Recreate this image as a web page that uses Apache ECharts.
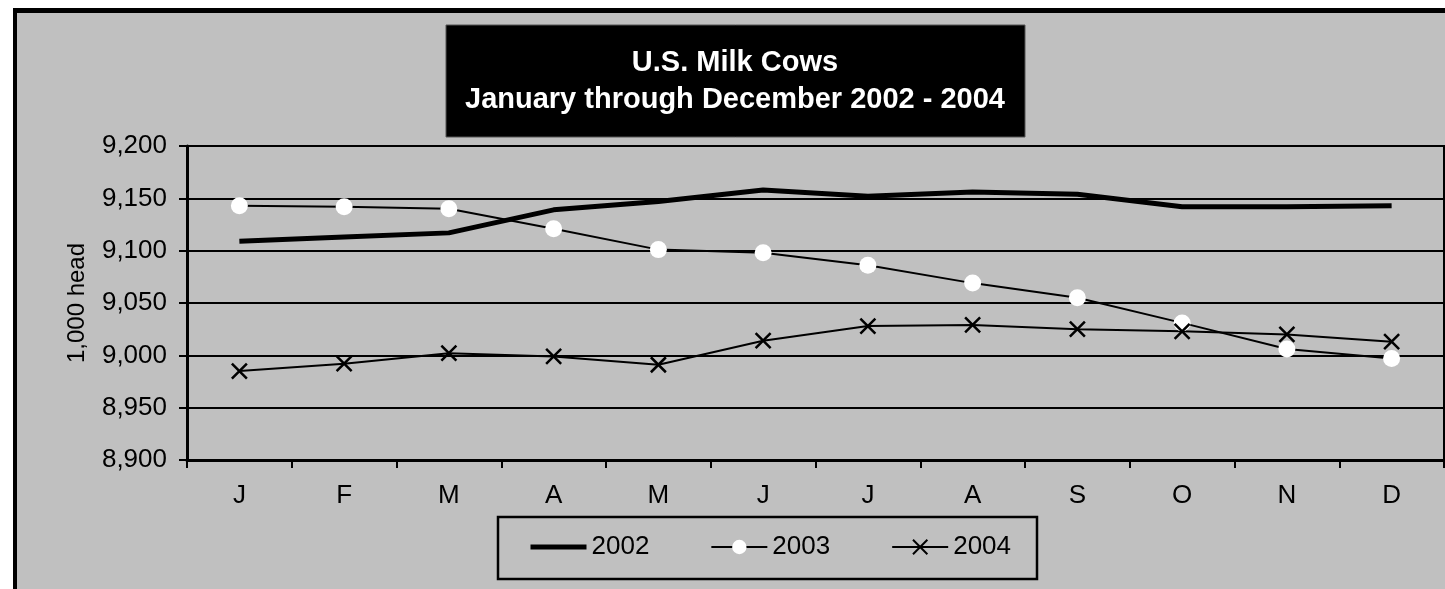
<!DOCTYPE html>
<html>
<head>
<meta charset="utf-8">
<title>U.S. Milk Cows</title>
<script src="https://cdn.jsdelivr.net/npm/echarts@6/dist/echarts.min.js"></script>
<style>
    html, body { margin: 0; padding: 0; background: #fff; }
    #main { width: 1445px; height: 589px; }
</style>
</head>
<body>
<div id="main"></div>
<script>
    // months, Jan..Dec
    var months = ['J', 'F', 'M', 'A', 'M', 'J', 'J', 'A', 'S', 'O', 'N', 'D'];
    // 1,000 head
    var cows2002 = [9109, 9113, 9117, 9139, 9147, 9158, 9152, 9156, 9154, 9142, 9142, 9143];
    var cows2003 = [9143, 9142, 9140, 9121, 9101, 9098, 9086, 9069, 9055, 9031, 9006, 8997];
    var cows2004 = [8985, 8992, 9002, 8999, 8991, 9014, 9028, 9029, 9025, 9023, 9020, 9013];
    var yTicks = [8900, 8950, 9000, 9050, 9100, 9150, 9200];

    var FONT = '"Liberation Sans", Arial, sans-serif';
    var crossIcon = 'path://M0,0L10,10M10,0L0,10';

    var chart = echarts.init(document.getElementById('main'));

    var option = {
        backgroundColor: '#fff',
        animation: false,
        textStyle: { fontFamily: FONT, color: '#000' },
        graphic: [
            // black frame and grey panel
            { type: 'rect', z: -10, shape: { x: 13, y: 8, width: 1440, height: 600 }, style: { fill: '#000' } },
            { type: 'rect', z: -9, shape: { x: 17, y: 13, width: 1440, height: 600 }, style: { fill: '#c0c0c0' } },
            // title box
            { type: 'rect', z: 5, shape: { x: 446, y: 25, width: 579, height: 112 }, style: { fill: '#000', stroke: '#555', lineWidth: 1 } },
            {
                type: 'text', z: 6, x: 735, y: 44,
                style: {
                    text: 'U.S. Milk Cows\nJanuary through December 2002 - 2004',
                    fill: '#fff', font: 'bold 29px ' + FONT, lineHeight: 37,
                    textAlign: 'center', textVerticalAlign: 'top'
                }
            },
            // legend box
            { type: 'rect', z: 5, shape: { x: 498, y: 517, width: 539, height: 62 }, style: { fill: 'none', stroke: '#000', lineWidth: 2.5 } }
        ],
        legend: {
            left: 528,
            top: 533,
            padding: 0,
            itemGap: 61,
            itemWidth: 56,
            itemHeight: 18,
            textStyle: { fontSize: 26, lineHeight: 28, color: '#000', fontFamily: FONT },
            data: [
                { name: '2002', lineStyle: { width: 5, color: '#000' }, itemStyle: { color: 'transparent', borderWidth: 0 } },
                { name: '2003', lineStyle: { width: 2, color: '#000' } },
                { name: '2004', lineStyle: { width: 2, color: '#000' } }
            ]
        },
        grid: {
            left: 187,
            top: 146,
            width: 1257,
            height: 314,
            show: true,
            backgroundColor: 'transparent',
            borderColor: '#000',
            borderWidth: 2
        },
        xAxis: {
            type: 'category',
            data: months,
            boundaryGap: true,
            axisLine: { lineStyle: { color: '#000', width: 3 } },
            axisTick: { show: true, length: 8, inside: false, lineStyle: { color: '#000', width: 2 } },
            axisLabel: { color: '#000', fontSize: 26, margin: 23, fontFamily: FONT },
            splitLine: { show: false }
        },
        yAxis: {
            type: 'value',
            min: yTicks[0],
            max: yTicks[yTicks.length - 1],
            interval: 50,
            name: '1,000 head',
            nameLocation: 'middle',
            nameRotate: 90,
            nameGap: 98,
            nameTextStyle: { color: '#000', fontSize: 24, fontFamily: FONT },
            axisLine: { show: true, lineStyle: { color: '#000', width: 3 } },
            axisTick: { show: true, length: 8, lineStyle: { color: '#000', width: 2 } },
            axisLabel: {
                color: '#000', fontSize: 26, margin: 20, fontFamily: FONT,
                formatter: function (v) { return echarts.format.addCommas(v); }
            },
            splitLine: { show: true, lineStyle: { color: '#000', width: 2 } }
        },
        series: [
            {
                name: '2002',
                type: 'line',
                data: cows2002,
                symbol: 'none',
                lineStyle: { color: '#000', width: 5 },
                itemStyle: { color: '#000' },
                z: 3
            },
            {
                name: '2003',
                type: 'line',
                data: cows2003,
                symbol: 'circle',
                symbolSize: 17,
                lineStyle: { color: '#000', width: 2 },
                itemStyle: { color: '#fff', borderWidth: 0 },
                z: 4
            },
            {
                name: '2004',
                type: 'line',
                data: cows2004,
                symbol: crossIcon,
                symbolSize: 15,
                lineStyle: { color: '#000', width: 2 },
                itemStyle: { color: 'none', borderColor: '#000', borderWidth: 2.5 },
                z: 4
            }
        ]
    };

    chart.setOption(option);
    window.onresize = function () {
        chart && chart.resize();
    };
</script>
</body>
</html>
